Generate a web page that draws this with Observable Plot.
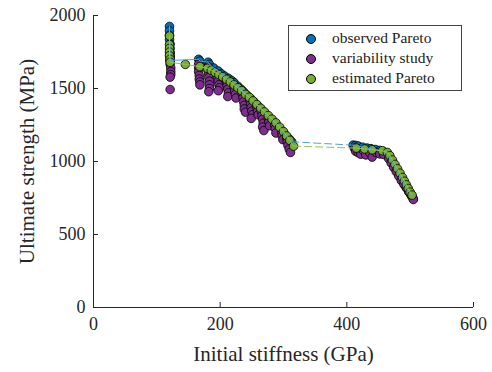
<!DOCTYPE html>
<html>
<head>
<meta charset="utf-8">
<script src="https://cdn.jsdelivr.net/npm/d3@7"></script>
<script src="https://cdn.jsdelivr.net/npm/@observablehq/plot@0.6"></script>
<style>
  html, body { margin: 0; padding: 0; background: #fff; }
  #wrap { position: relative; width: 492px; height: 372px; }
  #legend { position: absolute; left: 288px; top: 25px; width: 174px; height: 66px;
    border: 1px solid #444; background: #fff; box-sizing: border-box;
    font-family: "Liberation Serif", serif; font-size: 15.5px; color: #222; }
  .row { position: absolute; left: 0; height: 20px; line-height: 20px; white-space: nowrap; }
  .dot { position: absolute; left: 17px; top: 5px; width: 8px; height: 8px; border-radius: 50%; border: 0.8px solid #000; }
  .lab { position: absolute; left: 43px; top: -1px; }
</style>
</head>
<body>
<div id="wrap"></div>
<script>
// ---------- data (GPa, MPa) ----------
const observedX = [120,120,120,120,121,121,121,121,121,
  166,168,181,183,190,197,202,207,213,218,222,228,233,237,242,248,253,258,263,268,273,278,283,288,293,298,302,306,310,313,
  410,414,418,425,432,438,445,452,458,463,467,470,474,478,482,486,489,492,495,498,501,503,505];
const observedY = [1925,1895,1865,1835,1805,1775,1745,1715,1692,
  1700,1688,1680,1665,1640,1620,1600,1585,1570,1555,1540,1515,1495,1478,1455,1432,1410,1388,1365,1340,1318,1295,1275,1255,1230,1205,1185,1165,1150,1135,
  1112,1110,1106,1098,1092,1088,1082,1076,1068,1055,1030,1005,975,945,915,885,860,835,815,795,775,760,745];

const variabilityX = [121,121,121,121,122,122,122,121,121,
  166,166,166,167,167,168,168,
  181,181,182,182,183,183,183,182,
  195,196,197,198,199,197,
  210,211,212,213,212,
  222,223,224,225,
  235,236,237,238,238,240,
  247,248,249,250,251,249,
  258,259,260,
  265,266,267,268,267,269,
  276,277,278,
  286,287,288,
  297,298,299,
  305,306,307,309,311,
  412,414,418,422,426,430,436,440,446,452,458,
  466,470,474,478,482,486,490,494,498,502,505];
const variabilityY = [1740,1715,1690,1665,1640,1615,1595,1578,1493,
  1665,1640,1615,1590,1565,1545,1525,
  1650,1625,1600,1575,1550,1525,1500,1478,
  1600,1575,1550,1525,1505,1485,
  1545,1520,1495,1470,1445,
  1510,1485,1460,1435,
  1460,1435,1410,1385,1360,1338,
  1420,1395,1370,1345,1320,1295,
  1370,1345,1320,
  1345,1315,1290,1262,1236,1212,
  1295,1270,1245,
  1250,1225,1195,
  1200,1175,1150,
  1160,1135,1110,1085,1062,
  1090,1070,1060,1050,1075,1045,1060,1030,1062,1052,1048,
  1020,990,960,930,900,870,845,820,790,765,740];

const estimatedX = [120,120,120,120,120,121,121,
  145,168,180,186,192,198,204,210,216,222,228,234,240,246,252,258,264,270,276,282,288,294,300,305,310,316,
  415,428,440,456,464,468,472,476,480,484,488,491,494,497,500,503];
const estimatedY = [1860,1800,1775,1750,1725,1700,1680,
  1665,1650,1638,1625,1610,1595,1580,1563,1545,1525,1505,1485,1460,1440,1415,1390,1365,1340,1315,1290,1265,1235,1205,1175,1145,1105,
  1092,1086,1080,1074,1062,1040,1010,980,950,920,890,865,840,815,790,770];

const xTicks = [0, 200, 400, 600];
const yTicks = [0, 500, 1000, 1500, 2000];
const gapAt = 360;   // stiffness value separating the two Pareto branches

const seriesNames = ["observed Pareto", "variability study", "estimated Pareto"];
const seriesColors = ["#0072BD", "#7E2F8E", "#77AC30"];
const lineColors = ["#4da3e3", "#8fc45a"];
const FONT = "'Liberation Serif', serif";
const INK = "#262626";

// ---------- build ----------
const toRows = (xs, ys) => xs.map((x, i) => ({x, y: ys[i]}));
const observed = toRows(observedX, observedY);
const variability = toRows(variabilityX, variabilityY);
const estimated = toRows(estimatedX, estimatedY);

function bridge(rows) {
  const left = rows.filter(d => d.x < gapAt);
  const right = rows.filter(d => d.x >= gapAt);
  return [left[left.length - 1], right[0]];
}
const branch = d => d.x < gapAt ? "L" : "R";
const fmt = d => String(d);

const chart = Plot.plot({
  width: 492, height: 372,
  marginLeft: 93, marginRight: 19, marginTop: 15, marginBottom: 65,
  style: {fontFamily: FONT, fontSize: "18px", background: "#fff", color: INK},
  x: {domain: [0, 600], ticks: xTicks, label: null, tickFormat: fmt},
  y: {domain: [0, 2000], ticks: yTicks, label: null, tickFormat: fmt},
  marks: [
    Plot.axisX({ticks: xTicks, tickSize: 5, dy: -5, fill: "none", stroke: INK}),
    Plot.axisX({ticks: xTicks, tickSize: 0, tickPadding: 10, fontSize: 18, fill: INK, tickFormat: fmt}),
    Plot.axisY({ticks: yTicks, tickSize: 5, dx: 5, fill: "none", stroke: INK}),
    Plot.axisY({ticks: yTicks, tickSize: 0, tickPadding: 8, fontSize: 18, fill: INK, tickFormat: fmt}),
    Plot.ruleX([0], {stroke: INK}),
    Plot.ruleY([0], {stroke: INK}),
    Plot.dot(observed, {x: "x", y: "y", r: 4.3, fill: seriesColors[0], stroke: "#000", strokeWidth: 0.8}),
    Plot.dot(variability, {x: "x", y: "y", r: 4.3, fill: seriesColors[1], stroke: "#000", strokeWidth: 0.8}),
    Plot.dot(estimated, {x: "x", y: "y", r: 4.3, fill: seriesColors[2], stroke: "#000", strokeWidth: 0.8}),
    Plot.line(observed, {x: "x", y: "y", z: branch, stroke: lineColors[0], strokeWidth: 1}),
    Plot.line(estimated, {x: "x", y: "y", z: branch, stroke: lineColors[1], strokeWidth: 1}),
    Plot.line(bridge(observed), {x: "x", y: "y", stroke: lineColors[0], strokeWidth: 1, strokeDasharray: "7,4"}),
    Plot.line(bridge(estimated), {x: "x", y: "y", stroke: lineColors[1], strokeWidth: 1, strokeDasharray: "7,4"}),
    Plot.text(["Initial stiffness (GPa)"], {frameAnchor: "bottom", textAnchor: "middle", lineAnchor: "bottom", dy: 53, fontSize: 21, fill: INK}),
    Plot.text(["Ultimate strength (MPa)"], {frameAnchor: "left", textAnchor: "middle", lineAnchor: "middle", dx: -66, rotate: -90, fontSize: 21, fill: INK})
  ]
});

chart.setAttribute("font-family", FONT);
chart.querySelectorAll("g, text").forEach(el => {
  if (el.hasAttribute("font-family")) el.setAttribute("font-family", FONT);
  el.style.fontFamily = FONT;
});

const wrap = document.getElementById("wrap");
wrap.appendChild(chart);
const legend = document.createElement("div");
legend.id = "legend";
seriesNames.forEach((name, i) => {
  const row = document.createElement("div");
  row.className = "row";
  row.style.top = (3 + i * 20) + "px";
  row.innerHTML = `<span class="dot" style="background:${seriesColors[i]}"></span><span class="lab">${name}</span>`;
  legend.appendChild(row);
});
wrap.appendChild(legend);
</script>
</body>
</html>
